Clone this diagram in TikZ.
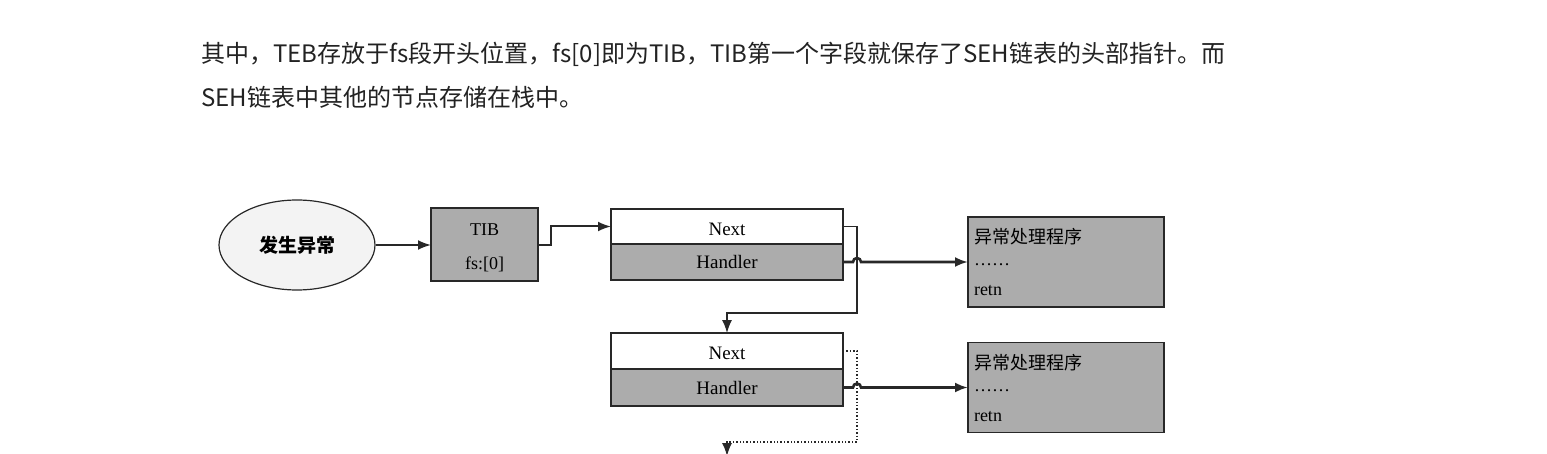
\documentclass[tikz,border=0pt]{standalone}
\usepackage{fontspec}
\setmainfont{Liberation Serif}
\newfontfamily\cjk{Noto Sans CJK SC}
\usetikzlibrary{arrows.meta, positioning, shapes.geometric}
\definecolor{boxc}{RGB}{172,172,172}
\definecolor{linec}{RGB}{40,40,40}
\definecolor{ovalc}{RGB}{243,243,243}
\definecolor{txtc}{RGB}{34,34,34}

\begin{document}
\begin{tikzpicture}[x=0.5pt, y=-0.5pt,
    box/.style={draw=linec, fill=boxc, line width=0.8pt, inner sep=0pt, outer sep=0pt},
    conn/.style={-{Latex[length=6.5pt, width=5pt]}, line width=1pt, linec}]
  \useasboundingbox (0,0) rectangle (1547,454);
  % text above the figure
  \node[anchor=base west, inner sep=0pt, text=txtc, font=\cjk\fontsize{12}{14}\selectfont] (line1) at (201,63) {其中，TEB存放于fs段开头位置，fs[0]即为TIB，TIB第一个字段就保存了SEH链表的头部指针。而};
  \node[anchor=base west, inner sep=0pt, text=txtc, font=\cjk\fontsize{12}{14}\selectfont] (line2) at (201,107) {SEH链表中其他的节点存储在栈中。};
  % exception, TIB
  \node[ellipse, draw=linec, fill=ovalc, line width=0.6pt, minimum width=78pt, minimum height=45pt, font=\cjk\bfseries\fontsize{9.5}{11}\selectfont] (oval) at (297,245) {发生异常};
  \node[box, minimum width=53.5pt, minimum height=36.5pt, align=center, font=\fontsize{9}{17}\selectfont] (tib) at (484.5,244.5) {\rule{0pt}{9.5pt}TIB\\fs:[0]};
  % SEH chain
  \node[box, fill=white, minimum width=116pt, minimum height=17.5pt, font=\fontsize{9.5}{11}\selectfont] (next1) at (727,226.5) {\rule{0pt}{9pt}Next};
  \node[box, minimum width=116pt, minimum height=18pt, font=\fontsize{9.5}{11}\selectfont, below=0pt of next1] (handler1) {Handler};
  \node[box, fill=white, minimum width=116pt, minimum height=18pt, font=\fontsize{9.5}{11}\selectfont] (next2) at (727,351) {\rule{0pt}{9pt}Next};
  \node[box, minimum width=116pt, minimum height=18.5pt, font=\fontsize{9.5}{11}\selectfont, below=0pt of next2] (handler2) {Handler};
  \coordinate (next3) at (727,456);
  % handlers
  \node[box, minimum width=98pt, minimum height=45pt, text width=92pt, align=left, font=\fontsize{9}{11}\selectfont] (proc1) at (1066,262) {{\cjk 异常处理程序}\\[0pt]……\\[4pt]retn};
  \node[box, minimum width=98pt, minimum height=45pt, text width=92pt, align=left, font=\fontsize{9}{11}\selectfont] (proc2) at (1066,387.5) {{\cjk 异常处理程序}\\[0pt]……\\[4pt]retn};
  % connectors
  \draw[conn] (oval.east) -- (tib.west |- oval.east);
  \draw[conn] (tib.east |- oval.east) -- ++(13,0) |- (next1.west);
  \draw[conn, line width=0.7pt] (next1.east) -- ++(14,0) -- ++(0,86.5) -| (next2.north);
  \draw[conn, line width=0.7pt, densely dotted] (next2.east) -- ++(14,0) -- ++(0,91) -| (next3);
  \draw[conn, line width=1.3pt] (handler1.east) -- ++(10,0) arc[start angle=180, end angle=0, radius=2pt] -- (proc1.west);
  \draw[conn, line width=1.3pt] (handler2.east) -- ++(10,0) arc[start angle=180, end angle=0, radius=2pt] -- (proc2.west);
\end{tikzpicture}
\end{document}
